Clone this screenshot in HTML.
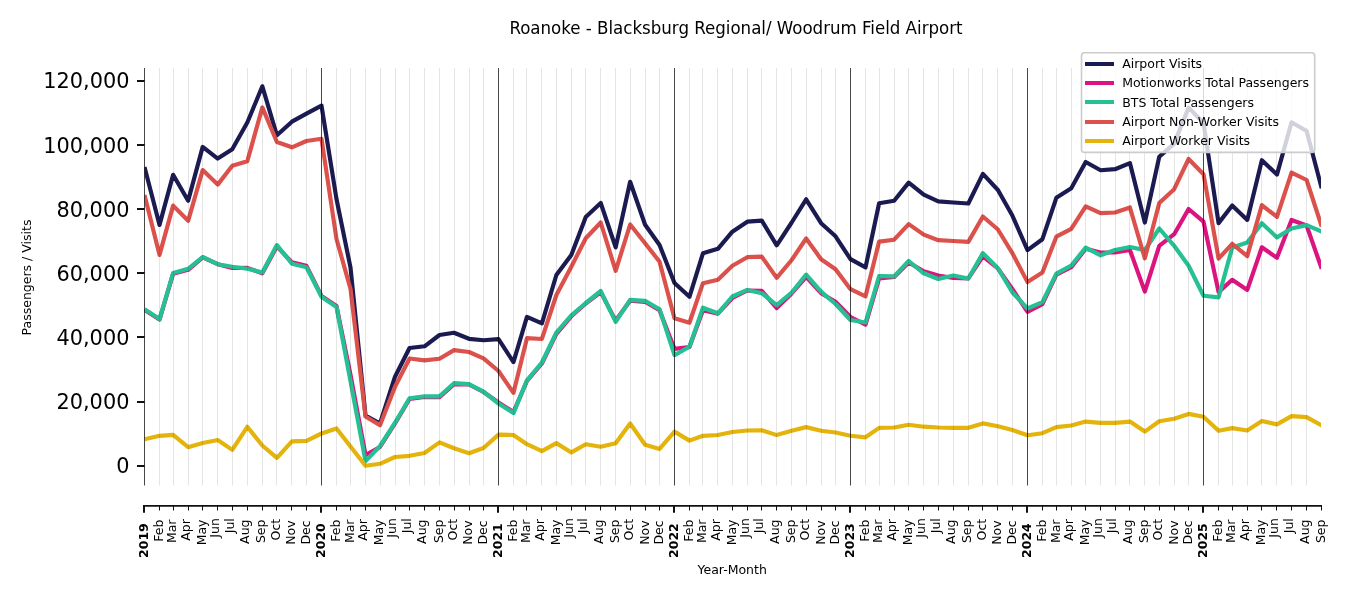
<!DOCTYPE html>
<html lang="en"><head><meta charset="utf-8"><title>Roanoke - Blacksburg Regional/ Woodrum Field Airport</title>
<style>html,body{margin:0;padding:0;background:#fff}body{width:1350px;height:600px;overflow:hidden}svg{display:block}text{font-family:"DejaVu Sans","Liberation Sans",sans-serif;fill:#000}.t{font-family:"DejaVu Sans Condensed","DejaVu Sans","Liberation Sans",sans-serif;font-stretch:condensed}</style></head><body>
<svg width="1350" height="600" viewBox="0 0 1350 600">
<rect width="1350" height="600" fill="#fff"/>
<defs><clipPath id="ax"><rect x="144.5" y="68.0" width="1176.50" height="417.5"/></clipPath></defs>
<g clip-path="url(#ax)">
<polyline points="144.50,167.00 159.53,224.90 173.11,174.80 188.14,200.80 202.69,146.90 217.72,158.60 232.27,149.20 247.31,122.50 262.34,86.30 276.89,135.30 291.92,121.70 306.47,113.70 321.50,105.60 336.49,199.00 350.52,267.70 365.51,415.50 380.02,423.50 395.01,376.70 409.52,348.00 424.51,346.30 439.50,335.00 454.01,332.77 469.00,338.80 483.51,340.21 498.50,339.11 513.45,362.10 526.95,316.95 541.90,323.45 556.36,275.00 571.31,255.00 585.78,217.00 600.72,203.00 615.67,247.40 630.14,181.80 645.09,224.80 659.55,245.00 674.50,283.00 689.45,296.80 702.95,253.30 717.90,248.80 732.36,231.70 747.31,221.70 761.78,220.70 776.72,245.30 791.67,222.50 806.14,199.30 821.09,223.20 835.55,236.30 850.50,259.20 865.53,267.40 879.11,203.20 894.14,200.80 908.69,182.60 923.72,194.70 938.27,201.30 953.31,202.50 968.34,203.51 982.89,173.80 997.92,190.00 1012.47,215.80 1027.50,250.10 1042.41,239.20 1056.35,197.80 1071.26,188.30 1085.69,162.00 1100.59,170.21 1115.02,169.20 1129.93,163.06 1144.83,222.60 1159.26,156.80 1174.17,143.60 1188.59,107.60 1203.50,122.70 1218.58,223.10 1232.20,205.50 1247.28,219.90 1261.87,160.20 1276.95,174.60 1291.54,122.30 1306.62,131.00 1321.70,188.30" fill="none" stroke="#1b1b52" stroke-width="4.17" stroke-linejoin="round" stroke-linecap="butt"/>
<polyline points="144.50,309.90 159.53,319.60 173.11,273.80 188.14,269.80 202.69,257.30 217.72,264.20 232.27,268.03 247.31,267.89 262.34,273.35 276.89,246.40 291.92,262.40 306.47,265.90 321.50,295.90 336.49,306.00 350.52,374.80 365.51,455.00 380.02,447.00 395.01,423.50 409.52,399.00 424.51,396.98 439.50,397.25 454.01,384.16 469.00,384.50 483.51,392.00 498.50,402.50 513.45,412.10 526.95,381.00 541.90,363.50 556.36,333.80 571.31,316.30 585.78,303.50 600.72,292.10 615.67,320.60 630.14,300.68 645.09,301.80 659.55,310.20 674.50,348.90 689.45,347.00 702.95,310.21 717.90,313.67 732.36,298.00 747.31,290.46 761.78,290.80 776.72,308.10 791.67,293.50 806.14,276.80 821.09,293.20 835.55,301.70 850.50,317.00 865.53,324.60 879.11,278.50 894.14,277.00 908.69,262.50 923.72,271.30 938.27,275.50 953.31,278.00 968.34,278.38 982.89,256.30 997.92,268.50 1012.47,289.20 1027.50,311.90 1042.41,304.20 1056.35,274.70 1071.26,267.20 1085.69,248.81 1100.59,252.50 1115.02,252.50 1129.93,250.04 1144.83,291.60 1159.26,245.80 1174.17,234.20 1188.59,209.00 1203.50,221.70 1218.58,292.10 1232.20,279.80 1247.28,289.90 1261.87,247.30 1276.95,257.80 1291.54,219.92 1306.62,225.50 1321.70,268.70" fill="none" stroke="#dc1480" stroke-width="4.17" stroke-linejoin="round" stroke-linecap="butt"/>
<polyline points="144.50,309.20 159.53,319.10 173.11,273.00 188.14,268.80 202.69,257.00 217.72,264.20 232.27,266.70 247.31,268.70 262.34,272.50 276.89,245.10 291.92,263.70 306.47,267.20 321.50,296.70 336.49,307.00 350.52,381.30 365.51,461.10 380.02,446.00 395.01,422.70 409.52,398.20 424.51,396.30 439.50,396.30 454.01,383.19 469.00,384.20 483.51,391.70 498.50,403.50 513.45,413.10 526.95,380.40 541.90,362.50 556.36,332.50 571.31,315.30 585.78,303.00 600.72,291.00 615.67,321.90 630.14,299.91 645.09,300.80 659.55,309.20 674.50,355.10 689.45,346.70 702.95,307.73 717.90,313.27 732.36,296.50 747.31,289.96 761.78,293.20 776.72,305.10 791.67,292.50 806.14,274.60 821.09,291.70 835.55,304.00 850.50,320.00 865.53,322.53 879.11,275.96 894.14,276.38 908.69,261.00 923.72,273.30 938.27,278.97 953.31,275.54 968.34,278.59 982.89,253.10 997.92,268.30 1012.47,292.50 1027.50,308.53 1042.41,302.20 1056.35,273.70 1071.26,265.50 1085.69,247.61 1100.59,255.32 1115.02,250.00 1129.93,247.04 1144.83,250.09 1159.26,228.50 1174.17,245.80 1188.59,265.80 1203.50,295.80 1218.58,297.32 1232.20,247.50 1247.28,242.50 1261.87,223.20 1276.95,237.40 1291.54,228.50 1306.62,225.15 1321.70,231.50" fill="none" stroke="#25c093" stroke-width="4.17" stroke-linejoin="round" stroke-linecap="butt"/>
<polyline points="144.50,195.00 159.53,254.90 173.11,205.60 188.14,220.80 202.69,170.10 217.72,184.60 232.27,165.80 247.31,161.30 262.34,107.40 276.89,142.00 291.92,147.32 306.47,141.00 321.50,138.77 336.49,239.00 350.52,289.00 365.51,416.50 380.02,425.20 395.01,386.70 409.52,358.55 424.51,360.35 439.50,358.70 454.01,350.10 469.00,352.00 483.51,358.30 498.50,371.00 513.45,392.90 526.95,338.13 541.90,338.96 556.36,295.00 571.31,266.70 585.78,238.30 600.72,222.50 615.67,270.80 630.14,224.50 645.09,243.30 659.55,261.70 674.50,318.30 689.45,322.73 702.95,283.20 717.90,279.70 732.36,265.80 747.31,257.20 761.78,256.64 776.72,277.90 791.67,260.00 806.14,238.50 821.09,259.20 835.55,269.20 850.50,289.20 865.53,296.29 879.11,241.60 894.14,239.70 908.69,224.10 923.72,234.60 938.27,240.20 953.31,241.00 968.34,241.89 982.89,216.50 997.92,229.50 1012.47,253.30 1027.50,282.10 1042.41,272.50 1056.35,236.70 1071.26,228.80 1085.69,206.30 1100.59,213.13 1115.02,212.50 1129.93,207.47 1144.83,258.30 1159.26,203.00 1174.17,189.20 1188.59,159.00 1203.50,174.20 1218.58,258.60 1232.20,243.80 1247.28,256.10 1261.87,205.10 1276.95,216.90 1291.54,172.60 1306.62,180.00 1321.70,226.50" fill="none" stroke="#dc514c" stroke-width="4.17" stroke-linejoin="round" stroke-linecap="butt"/>
<polyline points="144.50,439.20 159.53,435.80 173.11,434.91 188.14,447.18 202.69,443.00 217.72,439.99 232.27,449.90 247.31,426.80 262.34,445.50 276.89,457.80 291.92,441.30 306.47,440.80 321.50,433.50 336.49,428.48 350.52,446.50 365.51,465.80 380.02,463.80 395.01,457.00 409.52,455.80 424.51,453.00 439.50,442.38 454.01,448.30 469.00,453.24 483.51,448.00 498.50,434.66 513.45,435.00 526.95,444.20 541.90,451.17 556.36,443.11 571.31,452.40 585.78,444.29 600.72,446.78 615.67,443.30 630.14,423.50 645.09,444.70 659.55,448.88 674.50,431.60 689.45,440.61 702.95,435.80 717.90,435.00 732.36,432.00 747.31,430.50 761.78,430.28 776.72,435.11 791.67,430.80 806.14,427.12 821.09,430.80 835.55,432.50 850.50,435.80 865.53,437.32 879.11,427.90 894.14,427.50 908.69,424.80 923.72,426.70 938.27,427.50 953.31,427.80 968.34,427.80 982.89,423.41 997.92,426.20 1012.47,430.00 1027.50,435.23 1042.41,433.20 1056.35,427.10 1071.26,425.50 1085.69,421.57 1100.59,422.80 1115.02,422.80 1129.93,421.57 1144.83,431.60 1159.26,421.30 1174.17,418.80 1188.59,413.91 1203.50,416.70 1218.58,430.83 1232.20,428.10 1247.28,430.45 1261.87,421.02 1276.95,424.34 1291.54,416.19 1306.62,417.20 1321.70,425.50" fill="none" stroke="#e4b40c" stroke-width="4.17" stroke-linejoin="round" stroke-linecap="butt"/>
</g>
<path d="M159.5 68.0V485.5M173.5 68.0V485.5M188.5 68.0V485.5M202.5 68.0V485.5M217.5 68.0V485.5M232.5 68.0V485.5M247.5 68.0V485.5M262.5 68.0V485.5M276.5 68.0V485.5M291.5 68.0V485.5M306.5 68.0V485.5M336.5 68.0V485.5M350.5 68.0V485.5M365.5 68.0V485.5M380.5 68.0V485.5M395.5 68.0V485.5M409.5 68.0V485.5M424.5 68.0V485.5M439.5 68.0V485.5M454.5 68.0V485.5M469.5 68.0V485.5M483.5 68.0V485.5M513.5 68.0V485.5M526.5 68.0V485.5M541.5 68.0V485.5M556.5 68.0V485.5M571.5 68.0V485.5M585.5 68.0V485.5M600.5 68.0V485.5M615.5 68.0V485.5M630.5 68.0V485.5M645.5 68.0V485.5M659.5 68.0V485.5M689.5 68.0V485.5M702.5 68.0V485.5M717.5 68.0V485.5M732.5 68.0V485.5M747.5 68.0V485.5M761.5 68.0V485.5M776.5 68.0V485.5M791.5 68.0V485.5M806.5 68.0V485.5M821.5 68.0V485.5M835.5 68.0V485.5M865.5 68.0V485.5M879.5 68.0V485.5M894.5 68.0V485.5M908.5 68.0V485.5M923.5 68.0V485.5M938.5 68.0V485.5M953.5 68.0V485.5M968.5 68.0V485.5M982.5 68.0V485.5M997.5 68.0V485.5M1012.5 68.0V485.5M1042.5 68.0V485.5M1056.5 68.0V485.5M1071.5 68.0V485.5M1085.5 68.0V485.5M1100.5 68.0V485.5M1115.5 68.0V485.5M1129.5 68.0V485.5M1144.5 68.0V485.5M1159.5 68.0V485.5M1174.5 68.0V485.5M1188.5 68.0V485.5M1218.5 68.0V485.5M1232.5 68.0V485.5M1247.5 68.0V485.5M1261.5 68.0V485.5M1276.5 68.0V485.5M1291.5 68.0V485.5M1306.5 68.0V485.5" stroke="#000" stroke-opacity="0.1" stroke-width="1" fill="none"/>
<path d="M144.5 68.0V485.5M321.5 68.0V485.5M498.5 68.0V485.5M674.5 68.0V485.5M850.5 68.0V485.5M1027.5 68.0V485.5M1203.5 68.0V485.5" stroke="#000" stroke-opacity="0.72" stroke-width="1" fill="none"/>
<line x1="137" x2="144.6" y1="466.0" y2="466.0" stroke="#111" stroke-width="2"/>
<text x="129.4" y="473.40" font-size="20.83" text-anchor="end">0</text>
<line x1="137" x2="144.6" y1="402.0" y2="402.0" stroke="#111" stroke-width="2"/>
<text x="129.4" y="409.23" font-size="20.83" text-anchor="end">20,000</text>
<line x1="137" x2="144.6" y1="337.0" y2="337.0" stroke="#111" stroke-width="2"/>
<text x="129.4" y="345.06" font-size="20.83" text-anchor="end">40,000</text>
<line x1="137" x2="144.6" y1="273.0" y2="273.0" stroke="#111" stroke-width="2"/>
<text x="129.4" y="280.89" font-size="20.83" text-anchor="end">60,000</text>
<line x1="137" x2="144.6" y1="209.0" y2="209.0" stroke="#111" stroke-width="2"/>
<text x="129.4" y="216.72" font-size="20.83" text-anchor="end">80,000</text>
<line x1="137" x2="144.6" y1="145.0" y2="145.0" stroke="#111" stroke-width="2"/>
<text x="129.4" y="152.55" font-size="20.83" text-anchor="end">100,000</text>
<line x1="137" x2="144.6" y1="81.0" y2="81.0" stroke="#111" stroke-width="2"/>
<text x="129.4" y="88.38" font-size="20.83" text-anchor="end">120,000</text>
<line x1="143" x2="1322" y1="505.85" y2="505.85" stroke="#111" stroke-width="1.75"/>
<line x1="144.0" x2="144.0" y1="505.85" y2="512.7" stroke="#111" stroke-width="2"/>
<text transform="translate(147.55,523.2) rotate(-90)" font-size="12.5" font-weight="bold" text-anchor="end">2019</text>
<line x1="159.5" x2="159.5" y1="505.85" y2="510.5" stroke="#111" stroke-width="1"/>
<text transform="translate(162.68,519.5) rotate(-90)" font-size="12.5" text-anchor="end">Feb</text>
<line x1="173.5" x2="173.5" y1="505.85" y2="510.5" stroke="#111" stroke-width="1"/>
<text transform="translate(176.26,519.5) rotate(-90)" font-size="12.5" text-anchor="end">Mar</text>
<line x1="188.5" x2="188.5" y1="505.85" y2="510.5" stroke="#111" stroke-width="1"/>
<text transform="translate(190.09,519.1) rotate(-90)" font-size="12.5" text-anchor="end">Apr</text>
<line x1="202.5" x2="202.5" y1="505.85" y2="510.5" stroke="#111" stroke-width="1"/>
<text transform="translate(206.14,519.5) rotate(-90)" font-size="12.5" text-anchor="end">May</text>
<line x1="217.5" x2="217.5" y1="505.85" y2="510.5" stroke="#111" stroke-width="1"/>
<text transform="translate(219.17,518.2) rotate(-90)" font-size="12.5" text-anchor="end">Jun</text>
<line x1="232.5" x2="232.5" y1="505.85" y2="510.5" stroke="#111" stroke-width="1"/>
<text transform="translate(233.72,518.2) rotate(-90)" font-size="12.5" text-anchor="end">Jul</text>
<line x1="247.5" x2="247.5" y1="505.85" y2="510.5" stroke="#111" stroke-width="1"/>
<text transform="translate(249.26,519.5) rotate(-90)" font-size="12.5" text-anchor="end">Aug</text>
<line x1="262.5" x2="262.5" y1="505.85" y2="510.5" stroke="#111" stroke-width="1"/>
<text transform="translate(265.49,519.5) rotate(-90)" font-size="12.5" text-anchor="end">Sep</text>
<line x1="276.5" x2="276.5" y1="505.85" y2="510.5" stroke="#111" stroke-width="1"/>
<text transform="translate(279.64,518.8) rotate(-90)" font-size="12.5" text-anchor="end">Oct</text>
<line x1="291.5" x2="291.5" y1="505.85" y2="510.5" stroke="#111" stroke-width="1"/>
<text transform="translate(295.37,520.4) rotate(-90)" font-size="12.5" text-anchor="end">Nov</text>
<line x1="306.5" x2="306.5" y1="505.85" y2="510.5" stroke="#111" stroke-width="1"/>
<text transform="translate(309.92,520.4) rotate(-90)" font-size="12.5" text-anchor="end">Dec</text>
<line x1="321.0" x2="321.0" y1="505.85" y2="512.7" stroke="#111" stroke-width="2"/>
<text transform="translate(324.55,523.2) rotate(-90)" font-size="12.5" font-weight="bold" text-anchor="end">2020</text>
<line x1="336.5" x2="336.5" y1="505.85" y2="510.5" stroke="#111" stroke-width="1"/>
<text transform="translate(339.64,519.5) rotate(-90)" font-size="12.5" text-anchor="end">Feb</text>
<line x1="350.5" x2="350.5" y1="505.85" y2="510.5" stroke="#111" stroke-width="1"/>
<text transform="translate(353.67,519.5) rotate(-90)" font-size="12.5" text-anchor="end">Mar</text>
<line x1="365.5" x2="365.5" y1="505.85" y2="510.5" stroke="#111" stroke-width="1"/>
<text transform="translate(367.46,519.1) rotate(-90)" font-size="12.5" text-anchor="end">Apr</text>
<line x1="380.5" x2="380.5" y1="505.85" y2="510.5" stroke="#111" stroke-width="1"/>
<text transform="translate(383.47,519.5) rotate(-90)" font-size="12.5" text-anchor="end">May</text>
<line x1="395.5" x2="395.5" y1="505.85" y2="510.5" stroke="#111" stroke-width="1"/>
<text transform="translate(396.46,518.2) rotate(-90)" font-size="12.5" text-anchor="end">Jun</text>
<line x1="409.5" x2="409.5" y1="505.85" y2="510.5" stroke="#111" stroke-width="1"/>
<text transform="translate(410.97,518.2) rotate(-90)" font-size="12.5" text-anchor="end">Jul</text>
<line x1="424.5" x2="424.5" y1="505.85" y2="510.5" stroke="#111" stroke-width="1"/>
<text transform="translate(426.46,519.5) rotate(-90)" font-size="12.5" text-anchor="end">Aug</text>
<line x1="439.5" x2="439.5" y1="505.85" y2="510.5" stroke="#111" stroke-width="1"/>
<text transform="translate(442.65,519.5) rotate(-90)" font-size="12.5" text-anchor="end">Sep</text>
<line x1="454.5" x2="454.5" y1="505.85" y2="510.5" stroke="#111" stroke-width="1"/>
<text transform="translate(456.76,518.8) rotate(-90)" font-size="12.5" text-anchor="end">Oct</text>
<line x1="469.5" x2="469.5" y1="505.85" y2="510.5" stroke="#111" stroke-width="1"/>
<text transform="translate(472.45,520.4) rotate(-90)" font-size="12.5" text-anchor="end">Nov</text>
<line x1="483.5" x2="483.5" y1="505.85" y2="510.5" stroke="#111" stroke-width="1"/>
<text transform="translate(486.96,520.4) rotate(-90)" font-size="12.5" text-anchor="end">Dec</text>
<line x1="498.0" x2="498.0" y1="505.85" y2="512.7" stroke="#111" stroke-width="2"/>
<text transform="translate(501.55,523.2) rotate(-90)" font-size="12.5" font-weight="bold" text-anchor="end">2021</text>
<line x1="513.5" x2="513.5" y1="505.85" y2="510.5" stroke="#111" stroke-width="1"/>
<text transform="translate(516.60,519.5) rotate(-90)" font-size="12.5" text-anchor="end">Feb</text>
<line x1="526.5" x2="526.5" y1="505.85" y2="510.5" stroke="#111" stroke-width="1"/>
<text transform="translate(530.10,519.5) rotate(-90)" font-size="12.5" text-anchor="end">Mar</text>
<line x1="541.5" x2="541.5" y1="505.85" y2="510.5" stroke="#111" stroke-width="1"/>
<text transform="translate(543.85,519.1) rotate(-90)" font-size="12.5" text-anchor="end">Apr</text>
<line x1="556.5" x2="556.5" y1="505.85" y2="510.5" stroke="#111" stroke-width="1"/>
<text transform="translate(559.81,519.5) rotate(-90)" font-size="12.5" text-anchor="end">May</text>
<line x1="571.5" x2="571.5" y1="505.85" y2="510.5" stroke="#111" stroke-width="1"/>
<text transform="translate(572.76,518.2) rotate(-90)" font-size="12.5" text-anchor="end">Jun</text>
<line x1="585.5" x2="585.5" y1="505.85" y2="510.5" stroke="#111" stroke-width="1"/>
<text transform="translate(587.23,518.2) rotate(-90)" font-size="12.5" text-anchor="end">Jul</text>
<line x1="600.5" x2="600.5" y1="505.85" y2="510.5" stroke="#111" stroke-width="1"/>
<text transform="translate(602.67,519.5) rotate(-90)" font-size="12.5" text-anchor="end">Aug</text>
<line x1="615.5" x2="615.5" y1="505.85" y2="510.5" stroke="#111" stroke-width="1"/>
<text transform="translate(618.82,519.5) rotate(-90)" font-size="12.5" text-anchor="end">Sep</text>
<line x1="630.5" x2="630.5" y1="505.85" y2="510.5" stroke="#111" stroke-width="1"/>
<text transform="translate(632.89,518.8) rotate(-90)" font-size="12.5" text-anchor="end">Oct</text>
<line x1="645.5" x2="645.5" y1="505.85" y2="510.5" stroke="#111" stroke-width="1"/>
<text transform="translate(648.54,520.4) rotate(-90)" font-size="12.5" text-anchor="end">Nov</text>
<line x1="659.5" x2="659.5" y1="505.85" y2="510.5" stroke="#111" stroke-width="1"/>
<text transform="translate(663.00,520.4) rotate(-90)" font-size="12.5" text-anchor="end">Dec</text>
<line x1="674.0" x2="674.0" y1="505.85" y2="512.7" stroke="#111" stroke-width="2"/>
<text transform="translate(677.55,523.2) rotate(-90)" font-size="12.5" font-weight="bold" text-anchor="end">2022</text>
<line x1="689.5" x2="689.5" y1="505.85" y2="510.5" stroke="#111" stroke-width="1"/>
<text transform="translate(692.60,519.5) rotate(-90)" font-size="12.5" text-anchor="end">Feb</text>
<line x1="702.5" x2="702.5" y1="505.85" y2="510.5" stroke="#111" stroke-width="1"/>
<text transform="translate(706.10,519.5) rotate(-90)" font-size="12.5" text-anchor="end">Mar</text>
<line x1="717.5" x2="717.5" y1="505.85" y2="510.5" stroke="#111" stroke-width="1"/>
<text transform="translate(719.85,519.1) rotate(-90)" font-size="12.5" text-anchor="end">Apr</text>
<line x1="732.5" x2="732.5" y1="505.85" y2="510.5" stroke="#111" stroke-width="1"/>
<text transform="translate(735.81,519.5) rotate(-90)" font-size="12.5" text-anchor="end">May</text>
<line x1="747.5" x2="747.5" y1="505.85" y2="510.5" stroke="#111" stroke-width="1"/>
<text transform="translate(748.76,518.2) rotate(-90)" font-size="12.5" text-anchor="end">Jun</text>
<line x1="761.5" x2="761.5" y1="505.85" y2="510.5" stroke="#111" stroke-width="1"/>
<text transform="translate(763.23,518.2) rotate(-90)" font-size="12.5" text-anchor="end">Jul</text>
<line x1="776.5" x2="776.5" y1="505.85" y2="510.5" stroke="#111" stroke-width="1"/>
<text transform="translate(778.67,519.5) rotate(-90)" font-size="12.5" text-anchor="end">Aug</text>
<line x1="791.5" x2="791.5" y1="505.85" y2="510.5" stroke="#111" stroke-width="1"/>
<text transform="translate(794.82,519.5) rotate(-90)" font-size="12.5" text-anchor="end">Sep</text>
<line x1="806.5" x2="806.5" y1="505.85" y2="510.5" stroke="#111" stroke-width="1"/>
<text transform="translate(808.89,518.8) rotate(-90)" font-size="12.5" text-anchor="end">Oct</text>
<line x1="821.5" x2="821.5" y1="505.85" y2="510.5" stroke="#111" stroke-width="1"/>
<text transform="translate(824.54,520.4) rotate(-90)" font-size="12.5" text-anchor="end">Nov</text>
<line x1="835.5" x2="835.5" y1="505.85" y2="510.5" stroke="#111" stroke-width="1"/>
<text transform="translate(839.00,520.4) rotate(-90)" font-size="12.5" text-anchor="end">Dec</text>
<line x1="850.0" x2="850.0" y1="505.85" y2="512.7" stroke="#111" stroke-width="2"/>
<text transform="translate(853.55,523.2) rotate(-90)" font-size="12.5" font-weight="bold" text-anchor="end">2023</text>
<line x1="865.5" x2="865.5" y1="505.85" y2="510.5" stroke="#111" stroke-width="1"/>
<text transform="translate(868.68,519.5) rotate(-90)" font-size="12.5" text-anchor="end">Feb</text>
<line x1="879.5" x2="879.5" y1="505.85" y2="510.5" stroke="#111" stroke-width="1"/>
<text transform="translate(882.26,519.5) rotate(-90)" font-size="12.5" text-anchor="end">Mar</text>
<line x1="894.5" x2="894.5" y1="505.85" y2="510.5" stroke="#111" stroke-width="1"/>
<text transform="translate(896.09,519.1) rotate(-90)" font-size="12.5" text-anchor="end">Apr</text>
<line x1="908.5" x2="908.5" y1="505.85" y2="510.5" stroke="#111" stroke-width="1"/>
<text transform="translate(912.14,519.5) rotate(-90)" font-size="12.5" text-anchor="end">May</text>
<line x1="923.5" x2="923.5" y1="505.85" y2="510.5" stroke="#111" stroke-width="1"/>
<text transform="translate(925.17,518.2) rotate(-90)" font-size="12.5" text-anchor="end">Jun</text>
<line x1="938.5" x2="938.5" y1="505.85" y2="510.5" stroke="#111" stroke-width="1"/>
<text transform="translate(939.72,518.2) rotate(-90)" font-size="12.5" text-anchor="end">Jul</text>
<line x1="953.5" x2="953.5" y1="505.85" y2="510.5" stroke="#111" stroke-width="1"/>
<text transform="translate(955.26,519.5) rotate(-90)" font-size="12.5" text-anchor="end">Aug</text>
<line x1="968.5" x2="968.5" y1="505.85" y2="510.5" stroke="#111" stroke-width="1"/>
<text transform="translate(971.49,519.5) rotate(-90)" font-size="12.5" text-anchor="end">Sep</text>
<line x1="982.5" x2="982.5" y1="505.85" y2="510.5" stroke="#111" stroke-width="1"/>
<text transform="translate(985.64,518.8) rotate(-90)" font-size="12.5" text-anchor="end">Oct</text>
<line x1="997.5" x2="997.5" y1="505.85" y2="510.5" stroke="#111" stroke-width="1"/>
<text transform="translate(1001.37,520.4) rotate(-90)" font-size="12.5" text-anchor="end">Nov</text>
<line x1="1012.5" x2="1012.5" y1="505.85" y2="510.5" stroke="#111" stroke-width="1"/>
<text transform="translate(1015.92,520.4) rotate(-90)" font-size="12.5" text-anchor="end">Dec</text>
<line x1="1027.0" x2="1027.0" y1="505.85" y2="512.7" stroke="#111" stroke-width="2"/>
<text transform="translate(1030.55,523.2) rotate(-90)" font-size="12.5" font-weight="bold" text-anchor="end">2024</text>
<line x1="1042.5" x2="1042.5" y1="505.85" y2="510.5" stroke="#111" stroke-width="1"/>
<text transform="translate(1045.56,519.5) rotate(-90)" font-size="12.5" text-anchor="end">Feb</text>
<line x1="1056.5" x2="1056.5" y1="505.85" y2="510.5" stroke="#111" stroke-width="1"/>
<text transform="translate(1059.50,519.5) rotate(-90)" font-size="12.5" text-anchor="end">Mar</text>
<line x1="1071.5" x2="1071.5" y1="505.85" y2="510.5" stroke="#111" stroke-width="1"/>
<text transform="translate(1073.21,519.1) rotate(-90)" font-size="12.5" text-anchor="end">Apr</text>
<line x1="1085.5" x2="1085.5" y1="505.85" y2="510.5" stroke="#111" stroke-width="1"/>
<text transform="translate(1089.14,519.5) rotate(-90)" font-size="12.5" text-anchor="end">May</text>
<line x1="1100.5" x2="1100.5" y1="505.85" y2="510.5" stroke="#111" stroke-width="1"/>
<text transform="translate(1102.04,518.2) rotate(-90)" font-size="12.5" text-anchor="end">Jun</text>
<line x1="1115.5" x2="1115.5" y1="505.85" y2="510.5" stroke="#111" stroke-width="1"/>
<text transform="translate(1116.47,518.2) rotate(-90)" font-size="12.5" text-anchor="end">Jul</text>
<line x1="1129.5" x2="1129.5" y1="505.85" y2="510.5" stroke="#111" stroke-width="1"/>
<text transform="translate(1131.88,519.5) rotate(-90)" font-size="12.5" text-anchor="end">Aug</text>
<line x1="1144.5" x2="1144.5" y1="505.85" y2="510.5" stroke="#111" stroke-width="1"/>
<text transform="translate(1147.98,519.5) rotate(-90)" font-size="12.5" text-anchor="end">Sep</text>
<line x1="1159.5" x2="1159.5" y1="505.85" y2="510.5" stroke="#111" stroke-width="1"/>
<text transform="translate(1162.01,518.8) rotate(-90)" font-size="12.5" text-anchor="end">Oct</text>
<line x1="1174.5" x2="1174.5" y1="505.85" y2="510.5" stroke="#111" stroke-width="1"/>
<text transform="translate(1177.62,520.4) rotate(-90)" font-size="12.5" text-anchor="end">Nov</text>
<line x1="1188.5" x2="1188.5" y1="505.85" y2="510.5" stroke="#111" stroke-width="1"/>
<text transform="translate(1192.04,520.4) rotate(-90)" font-size="12.5" text-anchor="end">Dec</text>
<line x1="1203.0" x2="1203.0" y1="505.85" y2="512.7" stroke="#111" stroke-width="2"/>
<text transform="translate(1206.55,523.2) rotate(-90)" font-size="12.5" font-weight="bold" text-anchor="end">2025</text>
<line x1="1218.5" x2="1218.5" y1="505.85" y2="510.5" stroke="#111" stroke-width="1"/>
<text transform="translate(1221.73,519.5) rotate(-90)" font-size="12.5" text-anchor="end">Feb</text>
<line x1="1232.5" x2="1232.5" y1="505.85" y2="510.5" stroke="#111" stroke-width="1"/>
<text transform="translate(1235.35,519.5) rotate(-90)" font-size="12.5" text-anchor="end">Mar</text>
<line x1="1247.5" x2="1247.5" y1="505.85" y2="510.5" stroke="#111" stroke-width="1"/>
<text transform="translate(1249.23,519.1) rotate(-90)" font-size="12.5" text-anchor="end">Apr</text>
<line x1="1261.5" x2="1261.5" y1="505.85" y2="510.5" stroke="#111" stroke-width="1"/>
<text transform="translate(1265.32,519.5) rotate(-90)" font-size="12.5" text-anchor="end">May</text>
<line x1="1276.5" x2="1276.5" y1="505.85" y2="510.5" stroke="#111" stroke-width="1"/>
<text transform="translate(1278.40,518.2) rotate(-90)" font-size="12.5" text-anchor="end">Jun</text>
<line x1="1291.5" x2="1291.5" y1="505.85" y2="510.5" stroke="#111" stroke-width="1"/>
<text transform="translate(1292.99,518.2) rotate(-90)" font-size="12.5" text-anchor="end">Jul</text>
<line x1="1306.5" x2="1306.5" y1="505.85" y2="510.5" stroke="#111" stroke-width="1"/>
<text transform="translate(1308.57,519.5) rotate(-90)" font-size="12.5" text-anchor="end">Aug</text>
<line x1="1321.5" x2="1321.5" y1="505.85" y2="510.5" stroke="#111" stroke-width="1"/>
<text transform="translate(1324.85,519.5) rotate(-90)" font-size="12.5" text-anchor="end">Sep</text>
<text x="732.2" y="574" font-size="12.5" text-anchor="middle">Year-Month</text>
<text transform="translate(31.3,277.5) rotate(-90)" font-size="12.5" text-anchor="middle">Passengers / Visits</text>
<text class="t" x="736" y="33.7" font-size="18.5" text-anchor="middle">Roanoke - Blacksburg Regional/ Woodrum Field Airport</text>
<rect x="1081.5" y="52.7" width="233.2" height="99.7" rx="3" ry="3" fill="#fff" fill-opacity="0.8" stroke="#cccccc" stroke-width="1.6"/>
<line x1="1085" x2="1114" y1="64" y2="64" stroke="#1b1b52" stroke-width="4"/>
<text x="1122.2" y="68.20" font-size="12.5">Airport Visits</text>
<line x1="1085" x2="1114" y1="83" y2="83" stroke="#dc1480" stroke-width="4"/>
<text x="1122.2" y="87.45" font-size="12.5">Motionworks Total Passengers</text>
<line x1="1085" x2="1114" y1="102" y2="102" stroke="#25c093" stroke-width="4"/>
<text x="1122.2" y="106.70" font-size="12.5">BTS Total Passengers</text>
<line x1="1085" x2="1114" y1="122" y2="122" stroke="#dc514c" stroke-width="4"/>
<text x="1122.2" y="125.95" font-size="12.5">Airport Non-Worker Visits</text>
<line x1="1085" x2="1114" y1="141" y2="141" stroke="#e4b40c" stroke-width="4"/>
<text x="1122.2" y="145.20" font-size="12.5">Airport Worker Visits</text>
</svg></body></html>
